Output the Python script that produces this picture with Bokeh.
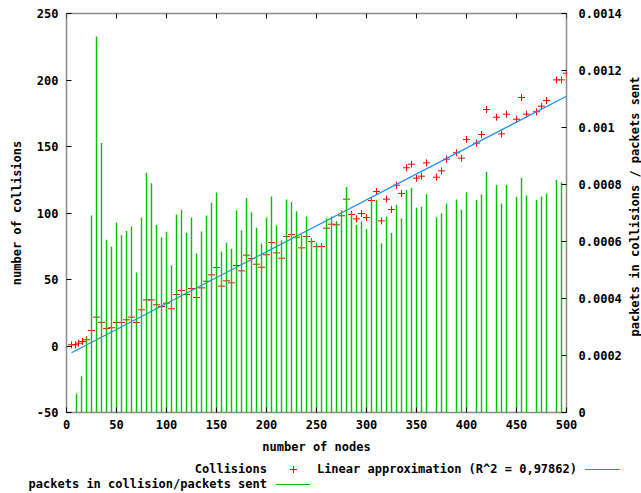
import numpy as np
from bokeh.plotting import figure
from bokeh.layouts import column, row
from bokeh.models import (Range1d, LinearAxis, FixedTicker, CustomJSTickFormatter, Div)
from bokeh.core.properties import value
from bokeh.embed import file_html
from bokeh.resources import INLINE

# ---------------- data ----------------
collision_nodes = [5, 9, 12, 16, 20,
                   25, 30, 35, 40, 45, 50, 55, 60, 65, 70,
                   75, 80, 85, 90, 95, 100, 105, 110, 115, 120,
                   125, 130, 135, 140, 145, 150, 155, 160, 165, 170,
                   175, 180, 185, 190, 195, 200, 205, 210, 215, 220,
                   225, 230, 235, 240, 245, 250, 255, 260, 265, 270,
                   275, 280, 285, 290, 295, 300, 305, 310, 315, 320,
                   325, 330, 335, 340, 345, 350, 355, 360,
                   370, 375, 380, 390, 395, 400, 410, 415, 420,
                   430, 435, 440, 450, 455, 460, 470, 475, 480,
                   490, 495, 500]
collisions = [0.9, 0.9, 2.1, 3.4, 4.7,
              11.7, 21.7, 17.7, 13.2, 13.7, 17.7, 17.7, 19.7, 21.7, 17.7,
              27.2, 34.7, 34.7, 31.0, 29.7, 32.2, 28.0, 38.7, 41.7, 38.7,
              43.2, 36.5, 43.7, 48.7, 53.5, 59.0, 45.0, 49.0, 47.5, 60.5,
              56.5, 68.3, 65.8, 61.5, 59.2, 68.6, 77.8, 70.0, 66.0, 82.3,
              83.8, 81.8, 73.8, 82.3, 78.5, 74.7, 74.8, 88.6, 91.6, 91.1,
              97.9, 110.4, 98.9, 95.6, 99.6, 96.6, 109.4, 116.2, 94.1, 110.4,
              102.6, 120.9, 114.7, 134.0, 136.7, 126.2, 127.7, 137.7,
              126.9, 131.7, 140.5, 145.3, 141.2, 155.3, 152.5, 159.0, 177.8,
              172.0, 159.5, 174.3, 170.5, 186.8, 174.3, 176.1, 180.3, 184.6,
              200.1, 200.1, 205.1]

fit_nodes = [5, 500]
fit_values = [-5.1, 187.8]

ratio_nodes = [10, 15, 20, 25, 30, 35, 40, 45, 50, 55, 60, 65, 70,
               75, 80, 85, 90, 95, 100, 105, 110, 115, 120,
               125, 130, 135, 140, 145, 150, 155, 160, 165, 170,
               175, 180, 185, 190, 195, 200, 205, 210, 215, 220,
               225, 230, 235, 240, 245, 250, 255, 260, 265, 270,
               275, 280, 285, 290, 295, 300, 305, 310, 315, 320,
               325, 330, 335, 340, 345, 350, 355, 360,
               370, 375, 380, 390, 395, 400, 410, 415, 420,
               430, 435, 440, 450, 455, 460, 470, 475, 480, 490, 495]
ratio_values = [0.66e-4, 1.27e-4, 2.64e-4, 6.91e-4, 13.19e-4, 9.46e-4, 6.06e-4,
                5.82e-4, 6.67e-4, 6.22e-4, 6.37e-4, 6.53e-4, 4.91e-4,
                6.84e-4, 8.41e-4, 8.04e-4, 6.58e-4, 6.15e-4, 6.34e-4, 5.16e-4,
                6.95e-4, 7.11e-4, 6.30e-4,
                6.84e-4, 5.58e-4, 6.35e-4, 6.91e-4, 7.36e-4, 7.72e-4, 5.65e-4,
                5.96e-4, 5.75e-4, 7.10e-4,
                6.39e-4, 7.53e-4, 7.03e-4, 6.48e-4, 5.93e-4, 6.84e-4, 7.58e-4,
                6.56e-4, 6.04e-4, 7.47e-4,
                7.39e-4, 7.06e-4, 6.25e-4, 6.88e-4, 6.08e-4, 5.96e-4, 5.92e-4,
                6.82e-4, 6.88e-4, 6.71e-4,
                7.10e-4, 7.91e-4, 7.03e-4, 6.58e-4, 6.70e-4, 6.44e-4, 7.50e-4,
                7.46e-4, 5.94e-4, 6.88e-4,
                6.30e-4, 7.29e-4, 6.81e-4, 7.82e-4, 7.89e-4, 7.18e-4, 7.22e-4, 7.66e-4,
                6.84e-4, 6.99e-4, 7.33e-4, 7.47e-4, 7.11e-4, 7.73e-4,
                7.46e-4, 7.65e-4, 8.44e-4,
                7.98e-4, 7.33e-4, 7.98e-4, 7.57e-4, 8.23e-4, 7.61e-4,
                7.46e-4, 7.58e-4, 7.68e-4, 8.16e-4, 8.07e-4]

x_ticks = [0, 50, 100, 150, 200, 250, 300, 350, 400, 450, 500]
y_ticks = [-50, 0, 50, 100, 150, 200, 250]
y2_ticks = [0, 0.0002, 0.0004, 0.0006, 0.0008, 0.001, 0.0012, 0.0014]

x_label = "number of nodes"
y_label = "number of collisions"
y2_label = "packets in collisions / packets sent"
legend_collisions = "Collisions"
legend_fit = "Linear approximation (R^2 = 0,97862)"
legend_ratio = "packets in collision/packets sent"

# ---------------- style ----------------
FONT = "DejaVu Sans Mono"
FSIZE = "12px"
RED = "#ff0000"
BLUE = "#1a8cff"
GREEN = "#00c000"
BORDER = "#8a8a8a"
W = 641
W_MAIN = 628
H_MAIN = 458
H_LEG = 493 - H_MAIN
FRAME_TOP, FRAME_BOTTOM = 13, 412
TICK_PX = 5

p = figure(width=W_MAIN, height=H_MAIN, output_backend="svg", toolbar_location=None,
           x_range=Range1d(0, 500), y_range=Range1d(-50, 250),
           min_border_left=66, min_border_right=W_MAIN - 566, min_border_top=FRAME_TOP,
           min_border_bottom=H_MAIN - FRAME_BOTTOM, x_axis_type=None, y_axis_type=None)
p.extra_y_ranges = {"right": Range1d(0, 0.0014)}
p.grid.visible = False
p.outline_line_color = BORDER
p.outline_line_width = 1.5
p.background_fill_color = "white"
p.border_fill_color = "white"

fmt = CustomJSTickFormatter(code="return String(tick)")


def style_axis(ax):
    ax.axis_line_color = None
    ax.major_tick_in = TICK_PX
    ax.major_tick_out = 0
    ax.major_tick_line_color = "black"
    ax.minor_tick_line_color = None
    ax.major_label_text_font = FONT
    ax.major_label_text_font_size = FSIZE
    ax.major_label_text_font_style = "bold"
    ax.major_label_text_color = "black"
    ax.axis_label_text_font = FONT
    ax.axis_label_text_font_size = FSIZE
    ax.axis_label_text_font_style = "bold"
    ax.axis_label_text_color = "black"


xb = LinearAxis(ticker=FixedTicker(ticks=x_ticks), formatter=fmt, axis_label=x_label)
style_axis(xb)
xb.major_label_standoff = 7
xb.axis_label_standoff = 8
p.add_layout(xb, "below")

yl = LinearAxis(ticker=FixedTicker(ticks=y_ticks), formatter=fmt, axis_label=y_label)
style_axis(yl)
yl.major_label_standoff = 8
yl.axis_label_standoff = 10
p.add_layout(yl, "left")

yr = LinearAxis(y_range_name="right", ticker=FixedTicker(ticks=y2_ticks), formatter=fmt)
style_axis(yr)
yr.major_label_standoff = 12
p.add_layout(yr, "right")

# mirrored x ticks on the top border (inward)
top_len = TICK_PX * 300.0 / 399.0
p.segment(x0=x_ticks, y0=[250] * len(x_ticks), x1=x_ticks,
          y1=[250 - top_len] * len(x_ticks), line_color="black", line_width=1)

# ---------------- marks ----------------
p.scatter(collision_nodes, collisions, marker="cross", size=7,
          line_color=RED, line_width=1)
p.line(fit_nodes, fit_values, line_color=BLUE, line_width=1.2)
p.segment(x0=ratio_nodes, y0=[0] * len(ratio_nodes), x1=ratio_nodes, y1=ratio_values,
          y_range_name="right", line_color=GREEN, line_width=1.4)

# ---------------- right-axis title strip (page pixel positions) ----------------
rt = figure(width=W - W_MAIN, height=H_MAIN, output_backend="svg", toolbar_location=None,
            x_range=Range1d(W_MAIN, W), y_range=Range1d(FRAME_BOTTOM, FRAME_TOP),
            min_border_left=0, min_border_right=0, min_border_top=FRAME_TOP,
            min_border_bottom=H_MAIN - FRAME_BOTTOM, x_axis_type=None, y_axis_type=None)
rt.grid.visible = False
rt.outline_line_color = None
rt.background_fill_color = "white"
rt.border_fill_color = "white"
rt.text(x=[634.5], y=[206], text=[y2_label], angle=np.pi / 2,
        text_font=value(FONT), text_font_size=value(FSIZE), text_font_style="bold",
        text_color="black", text_align="center", text_baseline="middle")

# ---------------- legend strip below the plot (page pixel positions) ----------------
row1, row2 = 469 - H_MAIN, 484 - H_MAIN


def span_right(text, right_px, r):
    return (f'<span style="position:absolute;right:{W - right_px}px;top:{r - 7}px;'
            f'height:14px;line-height:14px;white-space:nowrap;">{text}</span>')


def hline(x0, x1, r, color):
    return (f'<div style="position:absolute;left:{x0}px;top:{r - 0.5}px;'
            f'width:{x1 - x0}px;height:0;border-top:1.3px solid {color};"></div>')


def vline(x, y0, y1, color):
    return (f'<div style="position:absolute;left:{x - 0.5}px;top:{y0}px;'
            f'width:0;height:{y1 - y0}px;border-left:1.2px solid {color};"></div>')


legend_html = (
    f'<div style="position:relative;width:{W}px;height:{H_LEG}px;overflow:hidden;'
    f"font-family:'{FONT}';font-size:{FSIZE};font-weight:bold;color:black;"
    f'background:white;">'
    + span_right(legend_collisions, 267, row1)
    + hline(289.5, 296.5, row1, RED)
    + vline(293, row1 - 3.5, row1 + 3.5, RED)
    + span_right(legend_fit, 577, row1)
    + hline(585, 620, row1, BLUE)
    + span_right(legend_ratio, 267, row2)
    + hline(276, 310, row2, GREEN)
    + '</div>'
)
legend = Div(text=legend_html, width=W, height=H_LEG, margin=(0, 0, 0, 0))

layout = column(row(p, rt, spacing=0), legend, spacing=0)
open("out.html", "w").write(file_html(layout, INLINE))
